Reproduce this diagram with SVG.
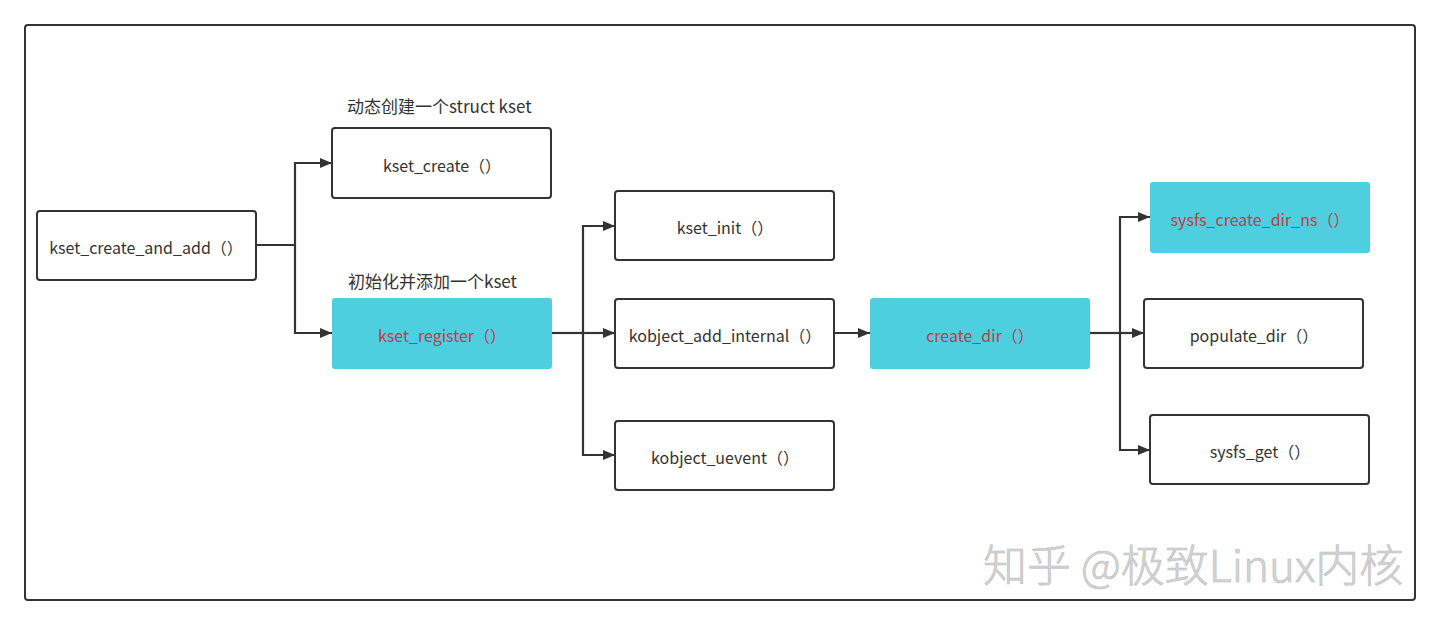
<svg xmlns="http://www.w3.org/2000/svg" width="1440" height="625" viewBox="0 0 1440 625">
<defs>
<style>
.box{fill:#fff;stroke:#333;stroke-width:2}
.hl{fill:#4ecfe0;stroke:none}
.t{font-family:"Noto Sans CJK SC","Noto Sans",sans-serif;font-size:16px;fill:#333;text-anchor:middle;dominant-baseline:central}
.tr{fill:#c23b45}
.lbl{font-family:"Noto Sans CJK SC","Noto Sans",sans-serif;font-size:17px;fill:#333}
.c{fill:none;stroke:#333;stroke-width:2.2}
.w{font-family:"Noto Sans CJK SC",sans-serif;font-size:44px;font-weight:300;fill:#d4d4d4;stroke:#bdbdbd;stroke-width:0.6}
</style>
<marker id="ah" viewBox="0 0 12 10" refX="12" refY="5" markerWidth="12" markerHeight="10" markerUnits="userSpaceOnUse" orient="auto">
<path d="M0,0 L12,5 L0,10 Z" fill="#333"/>
</marker>
</defs>
<rect x="25" y="25" width="1390" height="575" rx="3" fill="#fff" stroke="#333" stroke-width="2"/>

<g id="connectors">
<path class="c" d="M256,245 H295"/>
<path class="c" d="M295,245 V163 H332" marker-end="url(#ah)"/>
<path class="c" d="M295,245 V333 H332" marker-end="url(#ah)"/>
<path class="c" d="M552,333 H583"/>
<path class="c" d="M583,333 V226 H615" marker-end="url(#ah)"/>
<path class="c" d="M583,333 H615" marker-end="url(#ah)"/>
<path class="c" d="M583,333 V455 H615" marker-end="url(#ah)"/>
<path class="c" d="M834,333 H870" marker-end="url(#ah)"/>
<path class="c" d="M1090,333 H1120"/>
<path class="c" d="M1120,333 V217 H1150" marker-end="url(#ah)"/>
<path class="c" d="M1120,333 H1144" marker-end="url(#ah)"/>
<path class="c" d="M1120,333 V450 H1150" marker-end="url(#ah)"/>
</g>

<g id="n_kset_create_and_add">
<rect class="box" x="37" y="211" width="219" height="69" rx="3"/>
<text class="t" x="146" y="247">kset_create_and_add（）</text>
</g>
<g id="n_kset_create">
<text class="lbl" x="347" y="113">动态创建一个struct kset</text>
<rect class="box" x="332" y="128" width="219" height="70" rx="3"/>
<text class="t" x="442" y="165">kset_create（）</text>
</g>
<g id="n_kset_register">
<text class="lbl" x="348" y="288">初始化并添加一个kset</text>
<rect class="hl" x="332" y="298" width="220" height="71" rx="3"/>
<text class="t tr" x="442" y="335">kset_register（）</text>
</g>
<g id="n_kset_init">
<rect class="box" x="615" y="191" width="219" height="69" rx="3"/>
<text class="t" x="725" y="227">kset_init（）</text>
</g>
<g id="n_kobject_add_internal">
<rect class="box" x="615" y="299" width="219" height="69" rx="3"/>
<text class="t" x="725" y="335">kobject_add_internal（）</text>
</g>
<g id="n_kobject_uevent">
<rect class="box" x="615" y="421" width="219" height="69" rx="3"/>
<text class="t" x="725" y="457">kobject_uevent（）</text>
</g>
<g id="n_create_dir">
<rect class="hl" x="870" y="298" width="220" height="71" rx="3"/>
<text class="t tr" x="980" y="335">create_dir（）</text>
</g>
<g id="n_sysfs_create_dir_ns">
<rect class="hl" x="1150" y="182" width="220" height="71" rx="3"/>
<text class="t tr" x="1260" y="219">sysfs_create_dir_ns（）</text>
</g>
<g id="n_populate_dir">
<rect class="box" x="1144" y="299" width="219" height="69" rx="3"/>
<text class="t" x="1254" y="335">populate_dir（）</text>
</g>
<g id="n_sysfs_get">
<rect class="box" x="1150" y="415" width="219" height="69" rx="3"/>
<text class="t" x="1260" y="451">sysfs_get（）</text>
</g>

<text class="w" x="983" y="582">知乎 @极致Linux内核</text>
</svg>
